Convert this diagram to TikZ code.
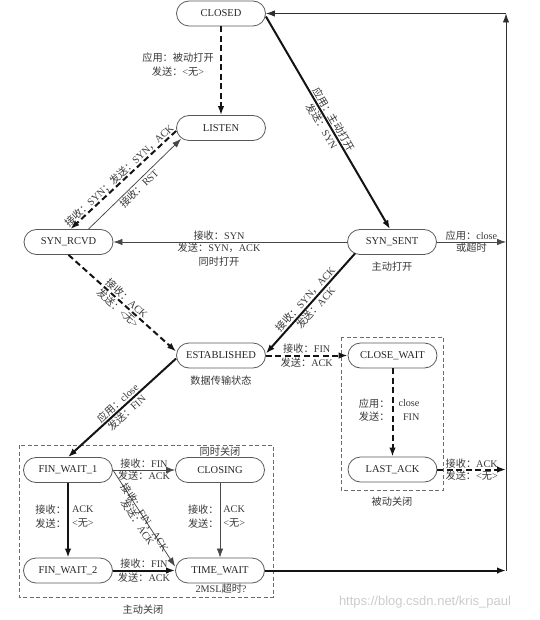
\documentclass[tikz,border=0pt]{standalone}
\usepackage{fontspec}
\setmainfont{Liberation Serif}
\newfontfamily\cjk{Noto Sans CJK SC}
\newfontfamily\wmfont{Liberation Sans}
\usetikzlibrary{arrows.meta}
\newcommand\zh[1]{{\cjk #1}}
\begin{document}
\begin{tikzpicture}[x=1pt,y=-1pt,
  state/.style={draw=black!65, line width=0.8pt, rounded corners=12.5pt,
    minimum width=89pt, minimum height=25pt, inner sep=0pt,
    font=\fontsize{10.5}{12}\selectfont, text=black!85},
  lbl/.style={font=\fontsize{10.2}{13.5}\selectfont, text=black!78, inner sep=1pt},
  tip/.style={-{Latex[length=9pt,width=6.5pt]}},
  strong/.style={tip, line width=2pt, draw=black!92},
  strongdash/.style={tip, line width=2pt, draw=black!92, dash pattern=on 6pt off 3.5pt},
  thinline/.style={tip, line width=0.75pt, draw=black!72},
  busline/.style={tip, line width=0.9pt, draw=black!82},
  group/.style={draw=black!58, line width=0.8pt, dash pattern=on 4pt off 2.5pt}
]
\useasboundingbox (0,0) rectangle (539,620);

% groups
\draw[group] (341,337) rectangle (443,490);
\draw[group] (19,445) rectangle (273,597);

% states
\node[state] (CLOSED) at (221,13.5) {CLOSED};
\node[state] (LISTEN) at (221,128) {LISTEN};
\node[state] (SYNRCVD) at (68.5,242) {SYN\_RCVD};
\node[state] (SYNSENT) at (392,242) {SYN\_SENT};
\node[state] (EST) at (221,355.5) {ESTABLISHED};
\node[state] (CW) at (392.5,355.5) {CLOSE\_WAIT};
\node[state] (LA) at (392.5,469.5) {LAST\_ACK};
\node[state] (FW1) at (68,470) {FIN\_WAIT\_1};
\node[state] (CLOSING) at (220,470) {CLOSING};
\node[state] (FW2) at (68,570.5) {FIN\_WAIT\_2};
\node[state] (TW) at (220,570.5) {TIME\_WAIT};

% bus coordinates
\coordinate (bTW) at (506,570.5);
\coordinate (bLA) at (506,469.5);
\coordinate (bSS) at (506,242);
\coordinate (bTop) at (506,13.5);

% free labels
\node[lbl, align=center] (lblpassive) at (178,64.5) {\zh{应用：被动打开}\\\zh{发送：}<\zh{无}>};
\node[lbl] (lblactiveopen) at (392,267) {\zh{主动打开}};
\node[lbl] (lbldata) at (221,381) {\zh{数据传输状态}};
\node[lbl] (lblpclose) at (392,502) {\zh{被动关闭}};
\node[lbl] (lblsim) at (220,452) {\zh{同时关闭}};
\node[lbl] (lbl2msl) at (221,589) {2MSL\zh{超时}?};
\node[lbl] (lblaclose) at (143,610) {\zh{主动关闭}};
\node[font=\wmfont\fontsize{13}{15}\selectfont, text=black!20, inner sep=0pt] (wm) at (425,602) {https://blog.csdn.net/kris\_paul};

% edges
\draw[strongdash] (CLOSED.south) -- (LISTEN.north);
\draw[strong] ([yshift=-3pt]CLOSED.east) -- ([xshift=-2pt]SYNSENT.north)
  node[lbl, sloped, pos=0.5, above=0pt] {\zh{应用：主动打开}}
  node[lbl, sloped, pos=0.5, below=0pt] {\zh{发送：}SYN};
\draw[strongdash] ([yshift=-3pt]LISTEN.west) -- ([xshift=2pt]SYNRCVD.north)
  node[lbl, sloped, pos=0.5, above=-1pt] {\zh{接收：}SYN\zh{；发送：}SYN\zh{，}ACK};
\draw[thinline] ([xshift=20pt]SYNRCVD.north) -- ([xshift=5pt,yshift=2pt]LISTEN.south west)
  node[lbl, sloped, pos=0.5, below=0pt] {\zh{接收：}RST};
\draw[thinline] (SYNSENT.west) -- (SYNRCVD.east)
  node[lbl, pos=0.548, above=0pt] {\zh{接收：}SYN}
  node[lbl, pos=0.548, below=0pt, align=center] {\zh{发送：}SYN\zh{，}ACK\\\zh{同时打开}};
\draw[thinline] (SYNSENT.east) -- (bSS)
  node[lbl, pos=0.5, above=0pt] {\zh{应用：}close}
  node[lbl, pos=0.5, below=0pt] {\zh{或超时}};
\draw[strongdash] (SYNRCVD.south) -- ([yshift=4pt]EST.west)
  node[lbl, sloped, pos=0.5, above=0pt] {\zh{接收：}ACK}
  node[lbl, sloped, pos=0.5, below=0pt] {\zh{发送：}<\zh{无}>};
\draw[strong] ([xshift=8pt,yshift=1.5pt]SYNSENT.south west) -- ([yshift=2pt]EST.east)
  node[lbl, sloped, pos=0.5, above=0pt] {\zh{接收：}SYN\zh{，}ACK}
  node[lbl, sloped, pos=0.5, below=0pt] {\zh{发送：}ACK};
\draw[strongdash] (EST.east) -- (CW.west)
  node[lbl, pos=0.5, above=0pt] {\zh{接收：}FIN}
  node[lbl, pos=0.5, below=0pt] {\zh{发送：}ACK};
\draw[strongdash] (CW.south) -- (LA.north)
  node[lbl, pos=0.47, anchor=east, align=right, inner sep=0pt, xshift=-2pt] {\zh{应用：}\\\zh{发送：}}
  node[lbl, pos=0.47, anchor=west, align=right, inner sep=0pt, xshift=5pt] {close\\FIN};
\draw[strongdash] (LA.east) -- (bLA)
  node[lbl, pos=0.5, above=-1pt] {\zh{接收：}ACK}
  node[lbl, pos=0.5, below=-1pt] {\zh{发送：}<\zh{无}>};
\draw[strong] ([yshift=-3pt]EST.west) -- (FW1.north)
  node[lbl, sloped, pos=0.5, above=0pt] {\zh{应用：}close}
  node[lbl, sloped, pos=0.5, below=0pt] {\zh{发送：}FIN};
\draw[thinline] (FW1.east) -- (CLOSING.west)
  node[lbl, pos=0.5, above=0pt] {\zh{接收：}FIN}
  node[lbl, pos=0.5, below=0pt] {\zh{发送：}ACK};
\draw[thinline] (FW1.east) -- ([yshift=4pt]TW.west)
  node[lbl, sloped, pos=0.5, above=-5pt] {\zh{接收：}FIN\zh{，}ACK}
  node[lbl, sloped, pos=0.5, below=1pt] {\zh{发送：}ACK};
\draw[strong] (FW1.south) -- (FW2.north)
  node[lbl, pos=0.45, anchor=east, align=right, inner sep=0pt, xshift=-1pt] {\zh{接收：}\\\zh{发送：}}
  node[lbl, pos=0.45, anchor=west, align=left, inner sep=0pt, xshift=3pt] {ACK\\<\zh{无}>};
\draw[thinline] (CLOSING.south) -- (TW.north)
  node[lbl, pos=0.45, anchor=east, align=right, inner sep=0pt, xshift=-1pt] {\zh{接收：}\\\zh{发送：}}
  node[lbl, pos=0.45, anchor=west, align=left, inner sep=0pt, xshift=3pt] {ACK\\<\zh{无}>};
\draw[strong] (FW2.east) -- (TW.west)
  node[lbl, pos=0.5, above=0pt] {\zh{接收：}FIN}
  node[lbl, pos=0.5, below=0pt] {\zh{发送：}ACK};
\draw[strong] (TW.east) -- (bTW);

% bus
\draw[busline] (bTW) -- (bTop);
\draw[busline] (bTop) -- (CLOSED.east);
\end{tikzpicture}
\end{document}
